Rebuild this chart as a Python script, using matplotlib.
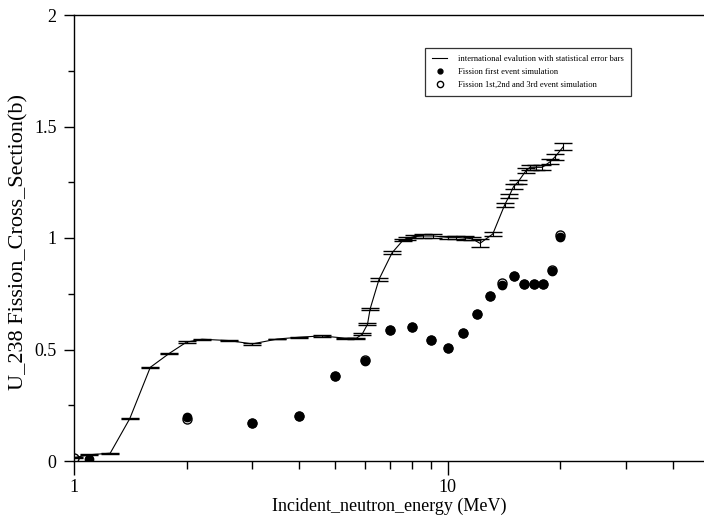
import matplotlib
matplotlib.use("Agg")
import matplotlib.pyplot as plt
from matplotlib.ticker import FixedLocator, NullFormatter, FixedFormatter
from matplotlib.lines import Line2D

plt.rcParams['font.family'] = ['Liberation Serif', 'DejaVu Serif']

# International evaluation (with statistical error bars)
E_eval = [1.0, 1.1, 1.25, 1.41, 1.6, 1.8, 2.0, 2.2, 2.6, 3.0, 3.5, 4.0, 4.6, 5.3, 5.7,
          5.9, 6.1, 6.2, 6.55, 7.1, 7.6, 7.8, 8.1, 8.6, 9.15, 10.0, 10.5, 11.1, 11.6,
          12.2, 13.2, 14.2, 14.6, 15.0, 15.4, 16.2, 16.6, 17.2, 17.9, 18.8, 19.4, 20.4]
sig_eval = [0.015, 0.028, 0.035, 0.19, 0.42, 0.483, 0.533, 0.546, 0.54, 0.525, 0.547,
            0.555, 0.561, 0.551, 0.551, 0.568, 0.613, 0.682, 0.815, 0.934, 0.991, 0.998,
            1.006, 1.009, 1.009, 1.003, 1.003, 1.0, 0.997, 0.976, 1.018, 1.148, 1.188,
            1.23, 1.25, 1.302, 1.317, 1.317, 1.317, 1.342, 1.365, 1.41]
err_eval = [0.002, 0.002, 0.002, 0.002, 0.002, 0.002, 0.003, 0.002, 0.002, 0.003, 0.002,
            0.002, 0.003, 0.002, 0.002, 0.004, 0.005, 0.005, 0.006, 0.006, 0.006, 0.006,
            0.007, 0.007, 0.007, 0.007, 0.007, 0.007, 0.008, 0.018, 0.008, 0.010, 0.010,
            0.010, 0.010, 0.011, 0.011, 0.011, 0.012, 0.012, 0.013, 0.017]

# Fission first event simulation
E_first = [1.1, 2, 3, 4, 5, 6, 7, 8, 9, 10, 11, 12, 13, 14, 15, 16, 17, 18, 19, 20]
sig_first = [0.008, 0.197, 0.169, 0.203, 0.381, 0.447, 0.587, 0.602, 0.544, 0.508, 0.573,
             0.659, 0.740, 0.790, 0.830, 0.792, 0.792, 0.792, 0.852, 1.003]

# Fission 1st, 2nd and 3rd event simulation
E_multi = [1.0, 2, 3, 4, 5, 6, 7, 8, 9, 10, 11, 12, 13, 14, 15, 16, 17, 18, 19, 20]
sig_multi = [0.012, 0.190, 0.169, 0.203, 0.381, 0.452, 0.587, 0.600, 0.544, 0.508, 0.573,
             0.659, 0.740, 0.796, 0.830, 0.792, 0.792, 0.792, 0.858, 1.013]

y_major = [0, 0.5, 1, 1.5, 2]
y_major_labels = ['0', '0.5', '1', '1.5', '2']
y_minor = [0.25, 0.75, 1.25, 1.75]
x_major = [1, 10]
x_major_labels = ['1', '10']
x_minor = [2, 3, 4, 5, 6, 7, 8, 9, 20, 30, 40]

fig = plt.figure(figsize=(7.04, 5.21), dpi=100)
W, H = 704, 521
x0, x1 = 74, 704
y0, y1 = 461, 15
ax = fig.add_axes([x0 / W, 1 - y0 / H, (x1 - x0) / W, (y0 - y1) / H])

ax.errorbar(E_eval, sig_eval, yerr=err_eval, color='black', lw=0.8,
            elinewidth=0.8, capsize=6.8, capthick=1.0, zorder=2)
ax.plot(E_first, sig_first, linestyle='none', marker='o', markersize=6,
        color='black', zorder=3)
ax.plot(E_multi, sig_multi, linestyle='none', marker='o', markersize=6.5,
        mfc='none', mec='black', mew=1.0, zorder=4)

ax.set_xscale('log')
ax.set_xlim(1, 48.5)
ax.set_ylim(0, 2)

ax.xaxis.set_major_locator(FixedLocator(x_major))
ax.xaxis.set_major_formatter(FixedFormatter(x_major_labels))
ax.xaxis.set_minor_locator(FixedLocator(x_minor))
ax.xaxis.set_minor_formatter(NullFormatter())
ax.yaxis.set_major_locator(FixedLocator(y_major))
ax.yaxis.set_major_formatter(FixedFormatter(y_major_labels))
ax.yaxis.set_minor_locator(FixedLocator(y_minor))

ax.tick_params(axis='x', which='major', direction='out', length=10, width=1, pad=3, labelsize=13)
ax.tick_params(axis='x', which='minor', direction='out', length=6, width=1)
ax.tick_params(axis='y', which='major', direction='out', length=7.5, width=1, pad=5, labelsize=13)
ax.tick_params(axis='y', which='minor', direction='out', length=4, width=1)

ax.spines['right'].set_visible(False)
ax.spines['top'].set_visible(True)
for s in ['left', 'bottom', 'top']:
    ax.spines[s].set_linewidth(1.0)

ax.set_xlabel('Incident_neutron_energy (MeV)', fontsize=13, labelpad=1)
ax.set_ylabel('U_238 Fission_Cross_Section(b)', fontsize=16)
ax.yaxis.set_label_coords(-0.072, 0.49)

handles = [
    Line2D([], [], color='black', lw=0.8),
    Line2D([], [], linestyle='none', marker='o', markersize=3.5, color='black'),
    Line2D([], [], linestyle='none', marker='o', markersize=4.5, mfc='none', mec='black', mew=1.0),
]
labels = ['international evalution with statistical error bars',
          'Fission first event simulation',
          'Fission 1st,2nd and 3rd event simulation']
leg = ax.legend(handles, labels, loc='upper left',
                bbox_to_anchor=(425 / W, 1 - 48 / H), bbox_transform=fig.transFigure,
                fontsize=6.1, frameon=True, fancybox=False, borderpad=0.85,
                handlelength=1.8, handletextpad=1.2, labelspacing=0.55, borderaxespad=0)
leg.get_frame().set_edgecolor('black')
leg.get_frame().set_linewidth(0.9)

fig.savefig('out.png', dpi=100)
